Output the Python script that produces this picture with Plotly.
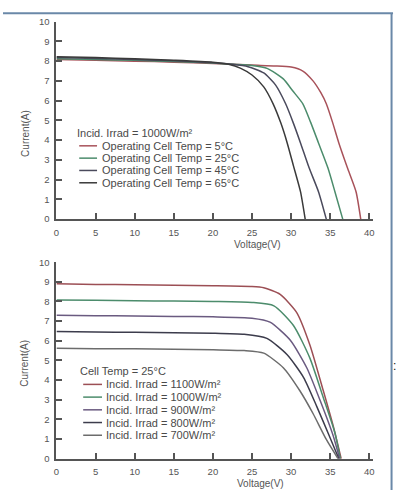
import plotly.graph_objects as go

W, H = 398, 495

# ---------------- top chart data (Incid. Irrad = 1000 W/m²) ----------------
top_title = "Incid. Irrad = 1000W/m²"
top_labels = ["Operating Cell Temp = 5°C", "Operating Cell Temp = 25°C",
              "Operating Cell Temp = 45°C", "Operating Cell Temp = 65°C"]
top_v_5c = [0, 5, 10, 15, 20, 25, 28, 30, 31.5, 32.8, 33.8, 34.5, 35.3, 36.1, 37.2, 38.3, 38.9]
top_i_5c = [8.08, 8.05, 8.0, 7.95, 7.88, 7.8, 7.76, 7.7, 7.5, 7.0, 6.4, 5.84, 4.9, 3.86, 2.6, 1.39, 0]
top_v_25c = [0, 5, 10, 15, 20, 22.5, 25, 27, 29, 30.2, 31.5, 32.5, 33.5, 34.7, 35.6, 36.6]
top_i_25c = [8.12, 8.08, 8.04, 7.98, 7.9, 7.84, 7.78, 7.62, 7.1, 6.5, 5.84, 4.9, 3.86, 2.6, 1.39, 0]
top_v_45c = [0, 5, 10, 15, 20, 22.5, 24.5, 26.5, 28, 29.3, 30.3, 31.2, 32.3, 33.5, 34.5]
top_i_45c = [8.18, 8.14, 8.08, 8.02, 7.92, 7.84, 7.72, 7.4, 6.8, 5.84, 4.85, 3.86, 2.6, 1.39, 0]
top_v_65c = [0, 5, 10, 15, 20, 22, 23.5, 25, 26.5, 27.7, 28.7, 29.5, 30.3, 31.2, 31.8]
top_i_65c = [8.22, 8.18, 8.12, 8.05, 7.95, 7.84, 7.65, 7.3, 6.7, 5.84, 4.85, 3.86, 2.7, 1.39, 0]

# ---------------- bottom chart data (Cell Temp = 25°C) ----------------
bot_title = "Cell Temp = 25°C"
bot_labels = ["Incid. Irrad = 1100W/m²", "Incid. Irrad = 1000W/m²", "Incid. Irrad = 900W/m²",
              "Incid. Irrad = 800W/m²", "Incid. Irrad = 700W/m²"]
bot_v_1100 = [0, 5, 10, 15, 20, 25, 26.5, 28.6, 30.7, 32.4, 34.1, 35.4, 36.4]
bot_i_1100 = [8.9, 8.87, 8.85, 8.82, 8.8, 8.76, 8.7, 8.36, 7.45, 5.79, 3.48, 1.64, 0]
bot_v_1000 = [0, 5, 10, 15, 20, 25, 27.8, 30.3, 32.4, 34.1, 35.6, 36.3]
bot_i_1000 = [8.08, 8.06, 8.04, 8.02, 8.0, 7.95, 7.78, 6.78, 5.12, 3.13, 1.31, 0]
bot_v_900 = [0, 5, 10, 15, 20, 25, 27.3, 29.9, 32.0, 33.7, 35.4, 36.2]
bot_i_900 = [7.3, 7.28, 7.26, 7.24, 7.22, 7.15, 6.95, 6.03, 4.63, 2.97, 1.14, 0]
bot_v_800 = [0, 5, 10, 15, 20, 24, 26.9, 29.5, 31.6, 33.3, 34.9, 36.1]
bot_i_800 = [6.47, 6.45, 6.43, 6.41, 6.39, 6.33, 6.12, 5.29, 4.13, 2.64, 1.14, 0]
bot_v_700 = [0, 5, 10, 15, 20, 24, 26.5, 29.0, 31.1, 32.8, 34.5, 36.0]
bot_i_700 = [5.62, 5.6, 5.59, 5.57, 5.55, 5.5, 5.37, 4.63, 3.47, 2.30, 0.98, 0]

x_ticks = [0, 5, 10, 15, 20, 25, 30, 35, 40]
y_ticks = [0, 1, 2, 3, 4, 5, 6, 7, 8, 9, 10]

top_colors = ["#a8525a", "#4c8c6c", "#4a4a5c", "#3a3a3a"]
bot_colors = ["#9c4f55", "#4c8c6c", "#6a5a80", "#3c3c4c", "#6c6c6c"]

top_series = [(top_v_5c, top_i_5c), (top_v_25c, top_i_25c), (top_v_45c, top_i_45c), (top_v_65c, top_i_65c)]
bot_series = [(bot_v_1100, bot_i_1100), (bot_v_1000, bot_i_1000), (bot_v_900, bot_i_900),
              (bot_v_800, bot_i_800), (bot_v_700, bot_i_700)]


def px(x):
    return x / W


def py(y):
    return 1 - y / H


fig = go.Figure()
for (v, i), name, c in zip(top_series, top_labels, top_colors):
    fig.add_trace(go.Scatter(x=v, y=i, mode="lines", name=name, xaxis="x", yaxis="y",
                             line=dict(color=c, width=1.5, shape="spline", smoothing=0.6),
                             showlegend=False))
for (v, i), name, c in zip(bot_series, bot_labels, bot_colors):
    fig.add_trace(go.Scatter(x=v, y=i, mode="lines", name=name, xaxis="x2", yaxis="y2",
                             line=dict(color=c, width=1.5, shape="spline", smoothing=0.6),
                             showlegend=False))

axis_common = dict(showline=True, linecolor="#555", linewidth=2, ticks="inside", ticklen=6,
                   tickwidth=1.5, tickcolor="#555", showgrid=False, zeroline=False,
                   ticklabelstandoff=3,
                   tickfont=dict(family="Liberation Sans, Arial", size=9.5, color="#555"))

xdom = [px(54), px(374)]
fig.update_layout(
    width=W, height=H, autosize=False,
    margin=dict(l=0, r=0, t=0, b=0),
    paper_bgcolor="white", plot_bgcolor="white",
    xaxis=dict(domain=xdom, range=[0, 40.5], tickvals=x_ticks, anchor="y", **axis_common),
    yaxis=dict(domain=[py(218), py(16)], range=[0, 10], tickvals=y_ticks, anchor="x", **axis_common),
    xaxis2=dict(domain=xdom, range=[0, 40.5], tickvals=x_ticks, anchor="y2", **axis_common),
    yaxis2=dict(domain=[py(463), py(262)], range=[0, 10], tickvals=y_ticks, anchor="x2", **axis_common),
)

annotations = []
shapes = []
txt_font = dict(family="Liberation Sans, Arial", size=11, color="#4a4a4a")
title_font = dict(family="Liberation Sans, Arial", size=10, color="#555")

# axis titles
annotations.append(dict(x=px(257), y=py(244), xref="paper", yref="paper", text="Voltage(V)",
                        showarrow=False, font=title_font, xanchor="center", yanchor="middle"))
annotations.append(dict(x=px(260), y=py(488), xref="paper", yref="paper", text="Voltage(V)",
                        showarrow=False, font=title_font, xanchor="center", yanchor="middle"))
annotations.append(dict(x=px(22), y=py(130), xref="paper", yref="paper", text="Current(A)",
                        showarrow=False, font=title_font, textangle=-90, xanchor="center", yanchor="middle"))
annotations.append(dict(x=px(22), y=py(365), xref="paper", yref="paper", text="Current(A)",
                        showarrow=False, font=title_font, textangle=-90, xanchor="center", yanchor="middle"))

# top legend
annotations.append(dict(x=px(73), y=py(130), xref="paper", yref="paper", text=top_title,
                        showarrow=False, font=txt_font, xanchor="left", yanchor="middle"))
for k, (name, c) in enumerate(zip(top_labels, top_colors)):
    yy = 143 + k * 12.6
    shapes.append(dict(type="line", xref="paper", yref="paper", x0=px(77), x1=px(95), y0=py(yy), y1=py(yy),
                       line=dict(color=c, width=1.5)))
    annotations.append(dict(x=px(98), y=py(yy), xref="paper", yref="paper", text=name,
                            showarrow=False, font=txt_font, xanchor="left", yanchor="middle"))

# bottom legend
annotations.append(dict(x=px(76), y=py(373), xref="paper", yref="paper", text=bot_title,
                        showarrow=False, font=txt_font, xanchor="left", yanchor="middle"))
for k, (name, c) in enumerate(zip(bot_labels, bot_colors)):
    yy = 387 + k * 13
    shapes.append(dict(type="line", xref="paper", yref="paper", x0=px(81), x1=px(100), y0=py(yy), y1=py(yy),
                       line=dict(color=c, width=1.5)))
    annotations.append(dict(x=px(102), y=py(yy), xref="paper", yref="paper", text=name,
                            showarrow=False, font=txt_font, xanchor="left", yanchor="middle"))

# colon at right edge
annotations.append(dict(x=px(395.5), y=py(368), xref="paper", yref="paper", text=":",
                        showarrow=False, font=dict(family="Liberation Sans, Arial", size=12, color="#111"),
                        xanchor="center", yanchor="middle"))

# frame lines (top and right)
shapes.append(dict(type="line", xref="paper", yref="paper", x0=0, x1=px(394), y0=py(7.5), y1=py(7.5),
                   line=dict(color="#6a88a8", width=2), layer="above"))
shapes.append(dict(type="line", xref="paper", yref="paper", x0=px(392.5), x1=px(392.5), y0=py(7.5), y1=0,
                   line=dict(color="#6a88a8", width=2), layer="above"))

fig.update_layout(annotations=annotations, shapes=shapes)
fig.write_html("out.html", config={"displayModeBar": False},
               post_script="document.body.style.margin='0';document.body.style.padding='0';"
                           "document.documentElement.style.margin='0';document.body.style.overflow='hidden';")
